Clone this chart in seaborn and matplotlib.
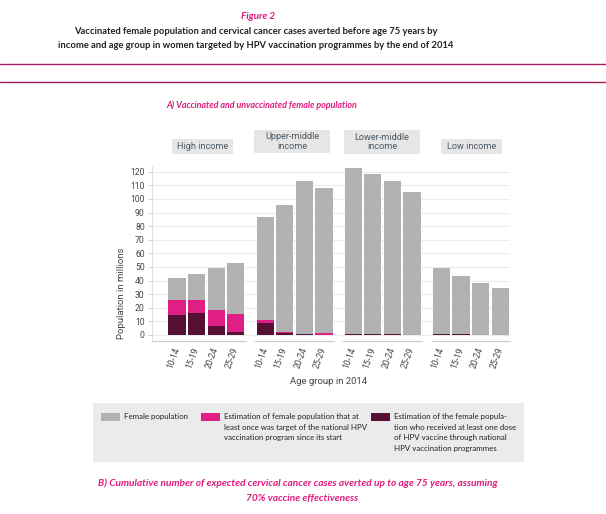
import numpy as np
import pandas as pd
import matplotlib
matplotlib.use('Agg')
import matplotlib.pyplot as plt
from matplotlib.patches import Rectangle
import seaborn as sns

# Data (millions)
incomes = ['High income', 'Upper-middle\nincome', 'Lower-middle\nincome', 'Low income']
ages = ['10-14', '15-19', '20-24', '25-29']
female_pop = [41.6, 44.6, 49.5, 53.1,
              86.7, 95.3, 113.2, 108.0,
              122.5, 118.0, 113.2, 105.3,
              49.5, 43.6, 38.2, 34.5]
targeted = [25.5, 25.5, 18.1, 15.4,
            10.8, 2.4, 1.0, 1.2,
            1.0, 0.6, 0.6, 0.0,
            1.0, 0.6, 0.0, 0.0]
vaccinated = [14.9, 15.9, 6.9, 2.2,
              8.8, 1.8, 0.9, 0.3,
              1.0, 0.5, 0.5, 0.0,
              1.0, 0.5, 0.0, 0.0]

GROUP_STEP = 4.5
rows = []
for g, inc in enumerate(incomes):
    for i, age in enumerate(ages):
        k = g * 4 + i
        rows.append({'pos': g * GROUP_STEP + i, 'income': inc, 'age': age,
                     'female': female_pop[k], 'target': targeted[k], 'vacc': vaccinated[k]})
df = pd.DataFrame(rows)

GRAY = '#b2b2b2'
PINK = '#e01f86'
DARK = '#561034'
MAGENTA = '#e0197d'
NARROW = ['Lato', 'Liberation Sans', 'DejaVu Sans']

sns.set_style('white')
plt.rcParams['font.family'] = ['Roboto', 'DejaVu Sans']

W, H = 606, 514
fig = plt.figure(figsize=(W / 100, H / 100), dpi=100)
renderer = fig.canvas.get_renderer()


def fx(px):
    return px / W


def fy(py):
    return 1 - py / H


def fit_text(t, width_px):
    # shrink/grow font so the text spans the width measured on the reference
    for _ in range(3):
        w = t.get_window_extent(renderer).width
        t.set_fontsize(t.get_fontsize() * width_px / w)
    return t.get_fontsize()


# axes placed in pixel coordinates
ax_left, ax_right, ax_top, ax_bot = 151.7, 510, 166.3, 340.7
ax = fig.add_axes([fx(ax_left), fy(ax_bot), fx(ax_right - ax_left), (ax_bot - ax_top) / H])

for col, colr in [('female', GRAY), ('target', PINK), ('vacc', DARK)]:
    sns.barplot(data=df, x='pos', y=col, native_scale=True, width=0.88, color=colr,
                saturation=1, errorbar=None, linewidth=0, ax=ax, zorder=3)

ax.set_xlim(-1.29, 17.0)
ax.set_ylim(-4.2, 124)
ax.set_yticks(np.arange(0, 121, 10))
ax.grid(axis='y', color='#ececec', linewidth=0.8, zorder=0)
ax.set_xticks(df['pos'])
ax.set_xticklabels(df['age'], rotation=70, ha='right', va='center', rotation_mode='anchor',
                   fontsize=6.2, color='#444444')
ax.tick_params(axis='x', length=0, pad=5)
ax.tick_params(axis='y', length=3, width=0.6, color='#cccccc', labelsize=6.2,
               labelcolor='#444444', pad=2, left=True)
ax.set_xlabel('')
ax.set_ylabel('')
for s in ['top', 'right', 'bottom']:
    ax.spines[s].set_visible(False)
ax.spines['left'].set_color('#dddddd')
ax.spines['left'].set_linewidth(0.6)

# baseline segments per income group
for g in range(4):
    x0 = g * GROUP_STEP - 0.5 if g > 0 else -1.29
    x1 = g * GROUP_STEP + 3.5 if g < 3 else 17.0
    ax.plot([x0, x1], [-4.2, -4.2], color='#cccccc', linewidth=0.9, clip_on=False, zorder=4)

# income group labels in grey boxes
boxes = [(171.7, 232.7, 139, 153.7), (254, 330, 130, 153.3),
         (344, 420, 130, 154), (440.7, 501.7, 139, 154)]
for (x0, x1, y0, y1), inc in zip(boxes, incomes):
    fig.patches.append(Rectangle((fx(x0), fy(y1)), fx(x1 - x0), (y1 - y0) / H,
                                 transform=fig.transFigure, facecolor='#e6e6e6',
                                 edgecolor='none'))
    fig.text(fx((x0 + x1) / 2), fy((y0 + y1) / 2), inc, ha='center', va='center',
             fontsize=6.6, color='#4c5a66', linespacing=1.1)

fig.text(fx(122), fy(293), 'Population in millions', rotation=90, ha='center', va='center',
         fontsize=6.8, color='#444444')
fig.text(fx(329), fy(381.7), 'Age group in 2014', ha='center', va='center',
         fontsize=6.8, color='#444444')

# titles
t = fig.text(fx(258), fy(16.5), 'Figure 2', ha='center', va='center', fontsize=8.5,
             color=MAGENTA, weight='bold', style='italic', family=NARROW)
fit_text(t, 34)
t1 = fig.text(fx(256), fy(31.7), 'Vaccinated female population and cervical cancer cases averted before age 75 years by',
              ha='center', va='center', fontsize=8.3, color='#222222', weight='bold', family=NARROW)
fs = fit_text(t1, 362)
fig.text(fx(256), fy(46), 'income and age group in women targeted by HPV vaccination programmes by the end of 2014',
         ha='center', va='center', fontsize=fs, color='#222222', weight='bold', family=NARROW)
for yy in [64.3, 82.3]:
    fig.add_artist(plt.Line2D([0, 1], [fy(yy), fy(yy)], color='#a51d61', linewidth=1.0,
                              transform=fig.transFigure))
t = fig.text(fx(262), fy(105.3), 'A) Vaccinated and unvaccinated female population', ha='center',
             va='center', fontsize=7.3, color=MAGENTA, weight='bold', style='italic', family=NARROW)
fit_text(t, 190)

# legend panel
fig.patches.append(Rectangle((fx(93), fy(462)), fx(524 - 93), (462 - 403) / H,
                             transform=fig.transFigure, facecolor='#ebebeb', edgecolor='none'))
legend_items = [
    (101, GRAY, ['Female population']),
    (201, PINK, ['Estimation of female population that at',
                 'least once was target of the national HPV',
                 'vaccination program since its start']),
    (371, DARK, ['Estimation of the female popula-',
                 'tion who received at least one dose',
                 'of HPV vaccine through national',
                 'HPV vaccination programmes']),
]
probe = fig.text(0, 0, 'Estimation of female population that at', fontsize=6.6, family=NARROW)
leg_fs = fit_text(probe, 136)
probe.remove()
for x0, colr, lines in legend_items:
    fig.patches.append(Rectangle((fx(x0), fy(421)), fx(19), 7.7 / H,
                                 transform=fig.transFigure, facecolor=colr, edgecolor='none'))
    for j, line in enumerate(lines):
        fig.text(fx(x0 + 23), fy(416.5 + j * 10.7), line, ha='left', va='center',
                 fontsize=leg_fs, color='#222222', family=NARROW)

t = fig.text(fx(298), fy(483), 'B) Cumulative number of expected cervical cancer cases averted up to age 75 years, assuming',
             ha='center', va='center', fontsize=8.3, color=MAGENTA, weight='bold', style='italic', family=NARROW)
fs = fit_text(t, 400)
fig.text(fx(302), fy(498), '70% vaccine effectiveness', ha='center', va='center', fontsize=fs,
         color=MAGENTA, weight='bold', style='italic', family=NARROW)

fig.savefig('out.png', dpi=100)
